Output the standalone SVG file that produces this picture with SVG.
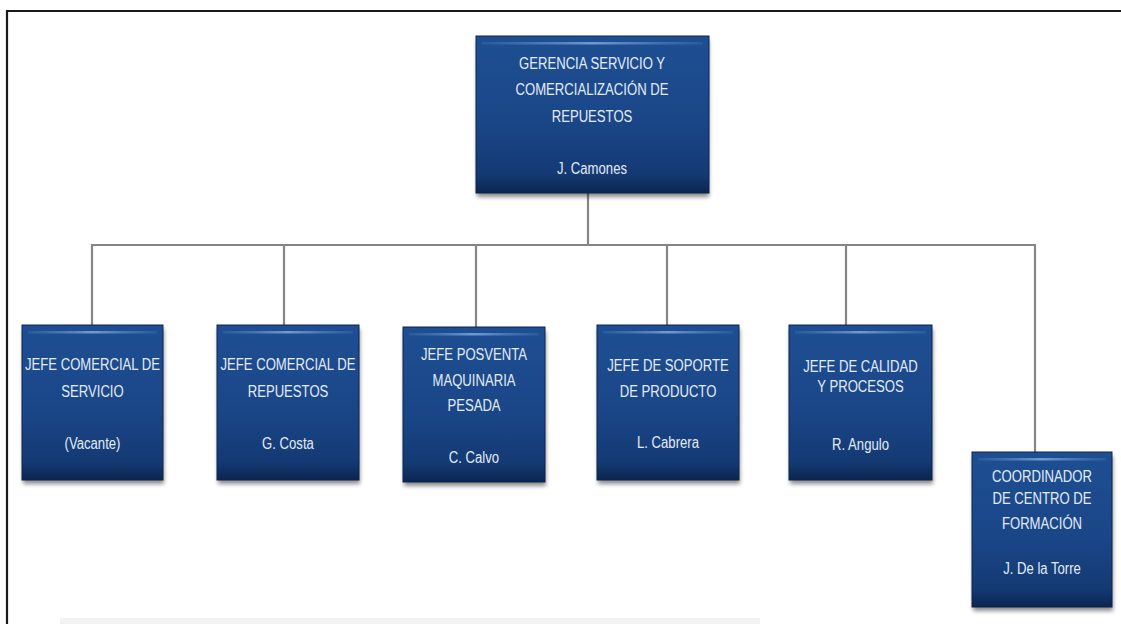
<svg xmlns="http://www.w3.org/2000/svg" width="1121" height="624" viewBox="0 0 1121 624">
  <defs>
    <style>
      .box { fill: url(#boxFill); stroke: #0b2450; stroke-width: 1; }
      .sheen { fill: url(#sheenFill); }
      .shade { fill: #000; opacity: 0.45; filter: url(#soft); }
      .lbl { font-family: "Liberation Sans", Arial, sans-serif; font-size: 16px; fill: #e4ecf7; text-anchor: middle; }
      .wire { fill: none; stroke: #858585; stroke-width: 2.2; }
      .frame { fill: none; stroke: #1a1a1a; stroke-width: 2.2; }
    </style>
    <linearGradient id="boxFill" x1="0" y1="0" x2="0" y2="1">
      <stop offset="0" stop-color="#1e4f93"/>
      <stop offset="0.55" stop-color="#1a4687"/>
      <stop offset="0.88" stop-color="#143a74"/>
      <stop offset="1" stop-color="#0b2550"/>
    </linearGradient>
    <linearGradient id="sheenFill" x1="0" y1="0" x2="1" y2="0">
      <stop offset="0" stop-color="#5f8cc6" stop-opacity="0.2"/>
      <stop offset="0.5" stop-color="#7aa3d6" stop-opacity="0.9"/>
      <stop offset="1" stop-color="#5f8cc6" stop-opacity="0.2"/>
    </linearGradient>
    <filter id="soft" x="-10%" y="-10%" width="120%" height="130%">
      <feGaussianBlur stdDeviation="2"/>
    </filter>
  </defs>

  <rect width="1121" height="624" fill="#ffffff"/>
  <!-- faint background marks along the lower edge -->
  <rect x="60" y="618" width="700" height="6" fill="#f2f2f2"/>

  <!-- page frame (top and left rules) -->
  <path class="frame" d="M7 624 V11 H1121"/>

  <!-- connectors -->
  <g id="connectors">
    <path class="wire" d="M588 193 V245"/>
    <path class="wire" d="M92 325 V245 H1035 V452"/>
    <path class="wire" d="M284 245 V325"/>
    <path class="wire" d="M476 245 V327"/>
    <path class="wire" d="M667 245 V325"/>
    <path class="wire" d="M846 245 V325"/>
  </g>

  <!-- top node -->
  <g id="gerencia">
    <rect class="shade" x="477" y="40" width="232" height="157"/>
    <rect class="box" x="476" y="36" width="233" height="157"/>
    <rect class="sheen" x="482" y="42" width="221" height="2.5"/>
    <g transform="translate(592 0) scale(0.82 1)">
      <text class="lbl" x="0" y="69">GERENCIA SERVICIO Y</text>
      <text class="lbl" x="0" y="95">COMERCIALIZACIÓN DE</text>
      <text class="lbl" x="0" y="122">REPUESTOS</text>
      <text class="lbl" x="0" y="174">J. Camones</text>
    </g>
  </g>

  <g id="jefe-comercial-servicio">
    <rect class="shade" x="23" y="329" width="141" height="155"/>
    <rect class="box" x="22" y="325" width="141" height="155"/>
    <rect class="sheen" x="28" y="331" width="129" height="2.5"/>
    <g transform="translate(92.5 0) scale(0.82 1)">
      <text class="lbl" x="0" y="370">JEFE COMERCIAL DE</text>
      <text class="lbl" x="0" y="397">SERVICIO</text>
      <text class="lbl" x="0" y="449">(Vacante)</text>
    </g>
  </g>

  <g id="jefe-comercial-repuestos">
    <rect class="shade" x="218" y="329" width="142" height="155"/>
    <rect class="box" x="217" y="325" width="142" height="155"/>
    <rect class="sheen" x="223" y="331" width="130" height="2.5"/>
    <g transform="translate(288 0) scale(0.82 1)">
      <text class="lbl" x="0" y="370">JEFE COMERCIAL DE</text>
      <text class="lbl" x="0" y="397">REPUESTOS</text>
      <text class="lbl" x="0" y="449">G. Costa</text>
    </g>
  </g>

  <g id="jefe-posventa">
    <rect class="shade" x="404" y="331" width="142" height="155"/>
    <rect class="box" x="403" y="327" width="142" height="155"/>
    <rect class="sheen" x="409" y="333" width="130" height="2.5"/>
    <g transform="translate(474 0) scale(0.82 1)">
      <text class="lbl" x="0" y="360">JEFE POSVENTA</text>
      <text class="lbl" x="0" y="386">MAQUINARIA</text>
      <text class="lbl" x="0" y="411">PESADA</text>
      <text class="lbl" x="0" y="463">C. Calvo</text>
    </g>
  </g>

  <g id="jefe-soporte">
    <rect class="shade" x="598" y="329" width="142" height="155"/>
    <rect class="box" x="597" y="325" width="142" height="155"/>
    <rect class="sheen" x="603" y="331" width="130" height="2.5"/>
    <g transform="translate(668 0) scale(0.82 1)">
      <text class="lbl" x="0" y="371">JEFE DE SOPORTE</text>
      <text class="lbl" x="0" y="397">DE PRODUCTO</text>
      <text class="lbl" x="0" y="448">L. Cabrera</text>
    </g>
  </g>

  <g id="jefe-calidad">
    <rect class="shade" x="790" y="329" width="143" height="155"/>
    <rect class="box" x="789" y="325" width="143" height="155"/>
    <rect class="sheen" x="795" y="331" width="131" height="2.5"/>
    <g transform="translate(860.5 0) scale(0.82 1)">
      <text class="lbl" x="0" y="372">JEFE DE CALIDAD</text>
      <text class="lbl" x="0" y="392">Y PROCESOS</text>
      <text class="lbl" x="0" y="450">R. Angulo</text>
    </g>
  </g>

  <g id="coordinador-formacion">
    <rect class="shade" x="973" y="456" width="140" height="155"/>
    <rect class="box" x="972" y="452" width="140" height="155"/>
    <rect class="sheen" x="978" y="458" width="128" height="2.5"/>
    <g transform="translate(1042 0) scale(0.82 1)">
      <text class="lbl" x="0" y="482">COORDINADOR</text>
      <text class="lbl" x="0" y="504">DE CENTRO DE</text>
      <text class="lbl" x="0" y="529">FORMACIÓN</text>
      <text class="lbl" x="0" y="574">J. De la Torre</text>
    </g>
  </g>
</svg>
